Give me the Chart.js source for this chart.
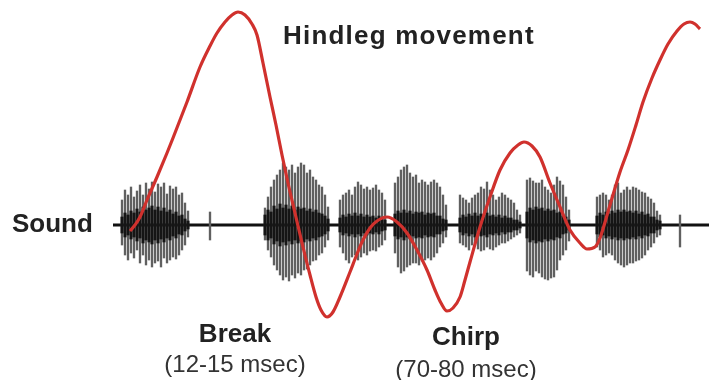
<!DOCTYPE html>
<html>
<head>
<meta charset="utf-8">
<script src="https://cdn.jsdelivr.net/npm/chart.js@4/dist/chart.umd.min.js"></script>
<style>
  html, body { margin: 0; padding: 0; background: #fff; }
  #wrap { width: 709px; height: 380px; }
</style>
</head>
<body>
<div id="wrap"><canvas id="chart" width="709" height="380"></canvas></div>
<script>
// time axis in arbitrary units (left to right), amplitude around the sound baseline
const sampleStep = 3;

// sound bursts: start time of each burst, then stroke amplitudes every sampleStep
const burstStart = [122, 265, 340, 395, 460, 527, 597];
const soundUp = [
  [25, 35, 30, 38, 28, 34, 40, 30, 42, 36, 43, 33, 41, 38, 42, 31, 39, 36, 38, 30, 32, 22, 14],
  [17, 28, 38, 45, 50, 55, 62, 58, 55, 60, 52, 58, 62, 60, 52, 55, 48, 45, 40, 38, 30, 18],
  [25, 30, 32, 35, 30, 38, 43, 40, 36, 38, 35, 37, 40, 35, 32, 25],
  [42, 48, 55, 58, 60, 52, 48, 50, 42, 45, 43, 40, 43, 45, 42, 38, 30, 20],
  [30, 27, 25, 22, 27, 30, 32, 38, 36, 43, 35, 30, 25, 28, 32, 30, 27, 25, 22, 15, 10],
  [45, 47, 44, 42, 42, 45, 38, 35, 32, 40, 48, 44, 40, 28, 15],
  [28, 30, 32, 30, 25, 30, 40, 42, 32, 35, 38, 35, 38, 37, 35, 33, 32, 28, 26, 22, 14, 10],
];
const soundDown = [
  [20, 30, 35, 28, 33, 25, 38, 30, 40, 35, 42, 38, 36, 42, 33, 38, 35, 32, 34, 30, 25, 20, 12],
  [15, 25, 32, 40, 45, 50, 55, 52, 56, 50, 53, 48, 50, 45, 44, 40, 36, 35, 30, 28, 22, 15],
  [22, 28, 35, 38, 32, 30, 35, 32, 28, 30, 26, 25, 26, 22, 20, 15],
  [28, 42, 48, 46, 42, 40, 38, 38, 40, 36, 35, 33, 35, 32, 28, 22, 18, 12],
  [18, 20, 22, 25, 20, 18, 24, 26, 25, 22, 24, 25, 22, 20, 18, 18, 16, 14, 12, 10, 8],
  [46, 50, 52, 46, 48, 52, 54, 55, 53, 52, 45, 35, 30, 25, 16],
  [22, 25, 32, 30, 28, 30, 35, 38, 40, 42, 40, 38, 38, 36, 35, 33, 30, 25, 22, 18, 12, 10],
];
const soundCore = [
  [8, 12, 10, 14, 12, 16, 13, 18, 15, 17, 19, 15, 18, 14, 17, 13, 15, 11, 13, 9, 10, 6, 4],
  [10, 15, 13, 19, 16, 21, 17, 20, 16, 19, 15, 18, 16, 17, 14, 16, 13, 15, 12, 11, 9, 6],
  [7, 10, 8, 11, 9, 12, 9, 11, 8, 10, 8, 9, 7, 9, 6, 5],
  [11, 14, 12, 15, 12, 14, 11, 13, 12, 13, 10, 12, 11, 12, 9, 9, 6, 5],
  [7, 10, 8, 11, 9, 12, 9, 11, 10, 12, 9, 10, 8, 10, 7, 9, 7, 7, 5, 5, 3],
  [13, 17, 15, 18, 16, 17, 14, 16, 14, 15, 12, 13, 9, 8, 5],
  [9, 12, 10, 13, 11, 14, 12, 15, 13, 15, 13, 14, 12, 14, 11, 13, 10, 11, 8, 8, 5, 4],
];

// isolated clicks between the bursts
const clickTime = [210, 680];
const clickUp = [13, 10];
const clickDown = [15, 22];

// sound baseline
const baselineTime = [113, 709];

// hindleg movement trace
const legTime = [130, 135, 140, 147, 157, 167, 173, 187, 200, 210, 217, 225, 232, 238, 245, 252, 257, 263, 270, 276,
  282, 288, 295, 303, 310, 316, 321, 327, 333, 340, 350, 357, 363, 370, 377, 387, 397, 407, 417, 427,
  435, 441, 447, 453, 460, 465, 470, 480, 490, 500, 510, 518, 524, 532, 540, 550, 560, 570, 580, 587,
  595, 600, 610, 620, 628, 636, 643, 652, 660, 668, 677, 684, 690, 695, 700];
const legPos = [-6, 0, 8, 25, 48, 72, 87, 123, 158, 179, 192, 203, 210, 213, 210, 201, 190, 162, 128, 100,
  70, 42, 12, -22, -50, -72, -85, -92, -87, -72, -47, -29, -15, -3, 4, 8, 3, -8, -25, -45,
  -65, -78, -86, -83, -72, -55, -37, -2, 28, 55, 72, 80, 83, 79, 68, 42, 18, -5, -18, -24,
  -22, -13, 20, 53, 75, 100, 123, 147, 165, 181, 194, 201, 203, 201, 196];

const outerBars = [];
const coreBars = [];
burstStart.forEach((t0, b) => {
  soundUp[b].forEach((up, i) => {
    const t = t0 + i * sampleStep;
    outerBars.push({ x: t, y: [-soundDown[b][i], up] });
    coreBars.push({ x: t, y: [-soundCore[b][i], soundCore[b][i]] });
  });
});
clickTime.forEach((t, i) => {
  outerBars.push({ x: t, y: [-clickDown[i], clickUp[i]] });
});

const labelPlugin = {
  id: 'labels',
  afterDraw(chart) {
    const ctx = chart.ctx;
    ctx.save();
    ctx.fillStyle = '#222';
    ctx.textBaseline = 'alphabetic';

    ctx.font = 'bold 26px "Liberation Sans", Arial, sans-serif';
    ctx.textAlign = 'left';
    ctx.letterSpacing = '1.2px';
    ctx.fillText('Hindleg movement', 283, 44);
    ctx.letterSpacing = '0px';
    ctx.fillText('Sound', 12, 232);

    ctx.textAlign = 'center';
    ctx.fillText('Break', 235, 342);
    ctx.fillText('Chirp', 466, 345);

    ctx.fillStyle = '#333';
    ctx.font = '24px "Liberation Sans", Arial, sans-serif';
    ctx.fillText('(12-15 msec)', 235, 372);
    ctx.fillText('(70-80 msec)', 466, 377);
    ctx.restore();
  },
};

new Chart(document.getElementById('chart'), {
  type: 'bar',
  data: {
    datasets: [
      {
        type: 'line',
        label: 'Hindleg movement',
        data: legTime.map((t, i) => ({ x: t, y: legPos[i] })),
        borderColor: '#d0312d',
        borderWidth: 3.2,
        pointRadius: 0,
        cubicInterpolationMode: 'monotone',
        fill: false,
        order: 0,
      },
      {
        label: 'Sound core',
        data: coreBars,
        backgroundColor: '#151515',
        barThickness: 2.4,
        grouped: false,
        order: 1,
      },
      {
        label: 'Sound',
        data: outerBars,
        backgroundColor: '#606060',
        barThickness: 1.7,
        grouped: false,
        order: 2,
      },
      {
        type: 'line',
        label: 'Baseline',
        data: baselineTime.map((t) => ({ x: t, y: 0 })),
        borderColor: '#111',
        borderWidth: 3,
        pointRadius: 0,
        fill: false,
        order: 3,
      },
    ],
  },
  options: {
    responsive: false,
    devicePixelRatio: 1,
    animation: false,
    layout: { padding: 0 },
    plugins: { legend: { display: false }, tooltip: { enabled: false } },
    scales: {
      x: { type: 'linear', min: 0, max: 709, offset: false, display: false },
      y: { min: -155, max: 225, display: false },
    },
  },
  plugins: [labelPlugin],
});
</script>
</body>
</html>
